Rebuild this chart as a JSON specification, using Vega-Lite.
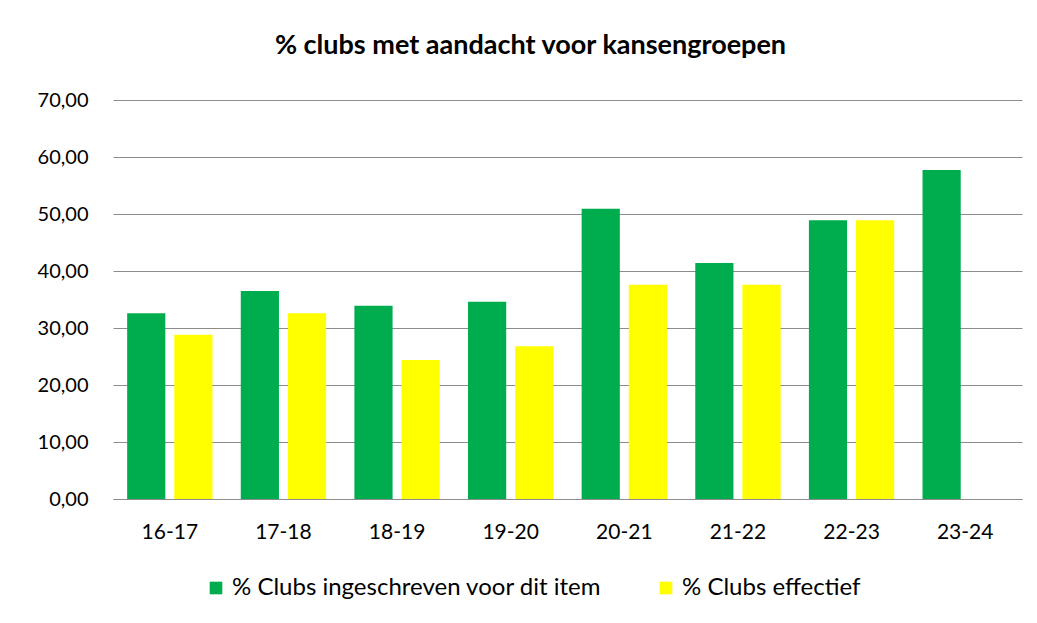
{
  "$schema": "https://vega.github.io/schema/vega-lite/v6.json",
  "width": 909,
  "height": 399,
  "autosize": {"type": "none"},
  "padding": {"left": 113, "top": 100, "right": 15, "bottom": 124},
  "background": "white",
  "title": {
    "text": "% clubs met aandacht voor kansengroepen",
    "font": "Lato",
    "fontSize": 27,
    "fontWeight": "bold",
    "color": "#000000",
    "anchor": "middle",
    "dx": -37,
    "offset": 30
  },
  "data": {
    "values": [
      {"seizoen": "16-17", "reeks": "% Clubs ingeschreven voor dit item", "waarde": 32.6},
      {"seizoen": "16-17", "reeks": "% Clubs effectief", "waarde": 28.8},
      {"seizoen": "17-18", "reeks": "% Clubs ingeschreven voor dit item", "waarde": 36.5},
      {"seizoen": "17-18", "reeks": "% Clubs effectief", "waarde": 32.6},
      {"seizoen": "18-19", "reeks": "% Clubs ingeschreven voor dit item", "waarde": 33.9},
      {"seizoen": "18-19", "reeks": "% Clubs effectief", "waarde": 24.4},
      {"seizoen": "19-20", "reeks": "% Clubs ingeschreven voor dit item", "waarde": 34.6},
      {"seizoen": "19-20", "reeks": "% Clubs effectief", "waarde": 26.8},
      {"seizoen": "20-21", "reeks": "% Clubs ingeschreven voor dit item", "waarde": 50.9},
      {"seizoen": "20-21", "reeks": "% Clubs effectief", "waarde": 37.6},
      {"seizoen": "21-22", "reeks": "% Clubs ingeschreven voor dit item", "waarde": 41.4},
      {"seizoen": "21-22", "reeks": "% Clubs effectief", "waarde": 37.6},
      {"seizoen": "22-23", "reeks": "% Clubs ingeschreven voor dit item", "waarde": 48.9},
      {"seizoen": "22-23", "reeks": "% Clubs effectief", "waarde": 48.9},
      {"seizoen": "23-24", "reeks": "% Clubs ingeschreven voor dit item", "waarde": 57.7}
    ]
  },
  "mark": {"type": "bar"},
  "encoding": {
    "x": {
      "field": "seizoen",
      "type": "nominal",
      "sort": null,
      "scale": {"paddingInner": 0, "paddingOuter": 0},
      "axis": {
        "title": null,
        "labelAngle": 0,
        "labelFont": "Lato",
        "labelFontSize": 21,
        "labelColor": "#000000",
        "labelPadding": 22,
        "ticks": false,
        "domainColor": "#8c8c8c",
        "domainWidth": 1.2
      }
    },
    "xOffset": {
      "field": "reeks",
      "type": "nominal",
      "sort": ["% Clubs ingeschreven voor dit item", "% Clubs effectief"],
      "scale": {"paddingInner": 0.19, "paddingOuter": 0.3}
    },
    "y": {
      "field": "waarde",
      "type": "quantitative",
      "scale": {"domain": [0, 70], "nice": false},
      "axis": {
        "title": null,
        "values": [0, 10, 20, 30, 40, 50, 60, 70],
        "format": ".2f",
        "labelFont": "Lato",
        "labelFontSize": 20,
        "labelColor": "#000000",
        "labelPadding": 25,
        "ticks": false,
        "domain": false,
        "grid": true,
        "gridColor": "#8c8c8c",
        "gridWidth": 1.2
      }
    },
    "color": {
      "field": "reeks",
      "type": "nominal",
      "sort": ["% Clubs ingeschreven voor dit item", "% Clubs effectief"],
      "scale": {
        "domain": ["% Clubs ingeschreven voor dit item", "% Clubs effectief"],
        "range": ["#00AD4E", "#FFFF00"]
      },
      "legend": {
        "title": null,
        "orient": "none",
        "direction": "horizontal",
        "legendX": 91,
        "legendY": 476,
        "symbolType": "square",
        "symbolSize": 160,
        "symbolStrokeWidth": 0,
        "labelFont": "Lato",
        "labelFontSize": 24,
        "labelColor": "#000000",
        "labelOffset": 4,
        "columnPadding": 52,
        "labelLimit": 500
      }
    }
  },
  "config": {
    "view": {"stroke": null},
    "locale": {
      "number": {
        "decimal": ",",
        "thousands": ".",
        "grouping": [3],
        "currency": ["€", ""]
      }
    }
  }
}
